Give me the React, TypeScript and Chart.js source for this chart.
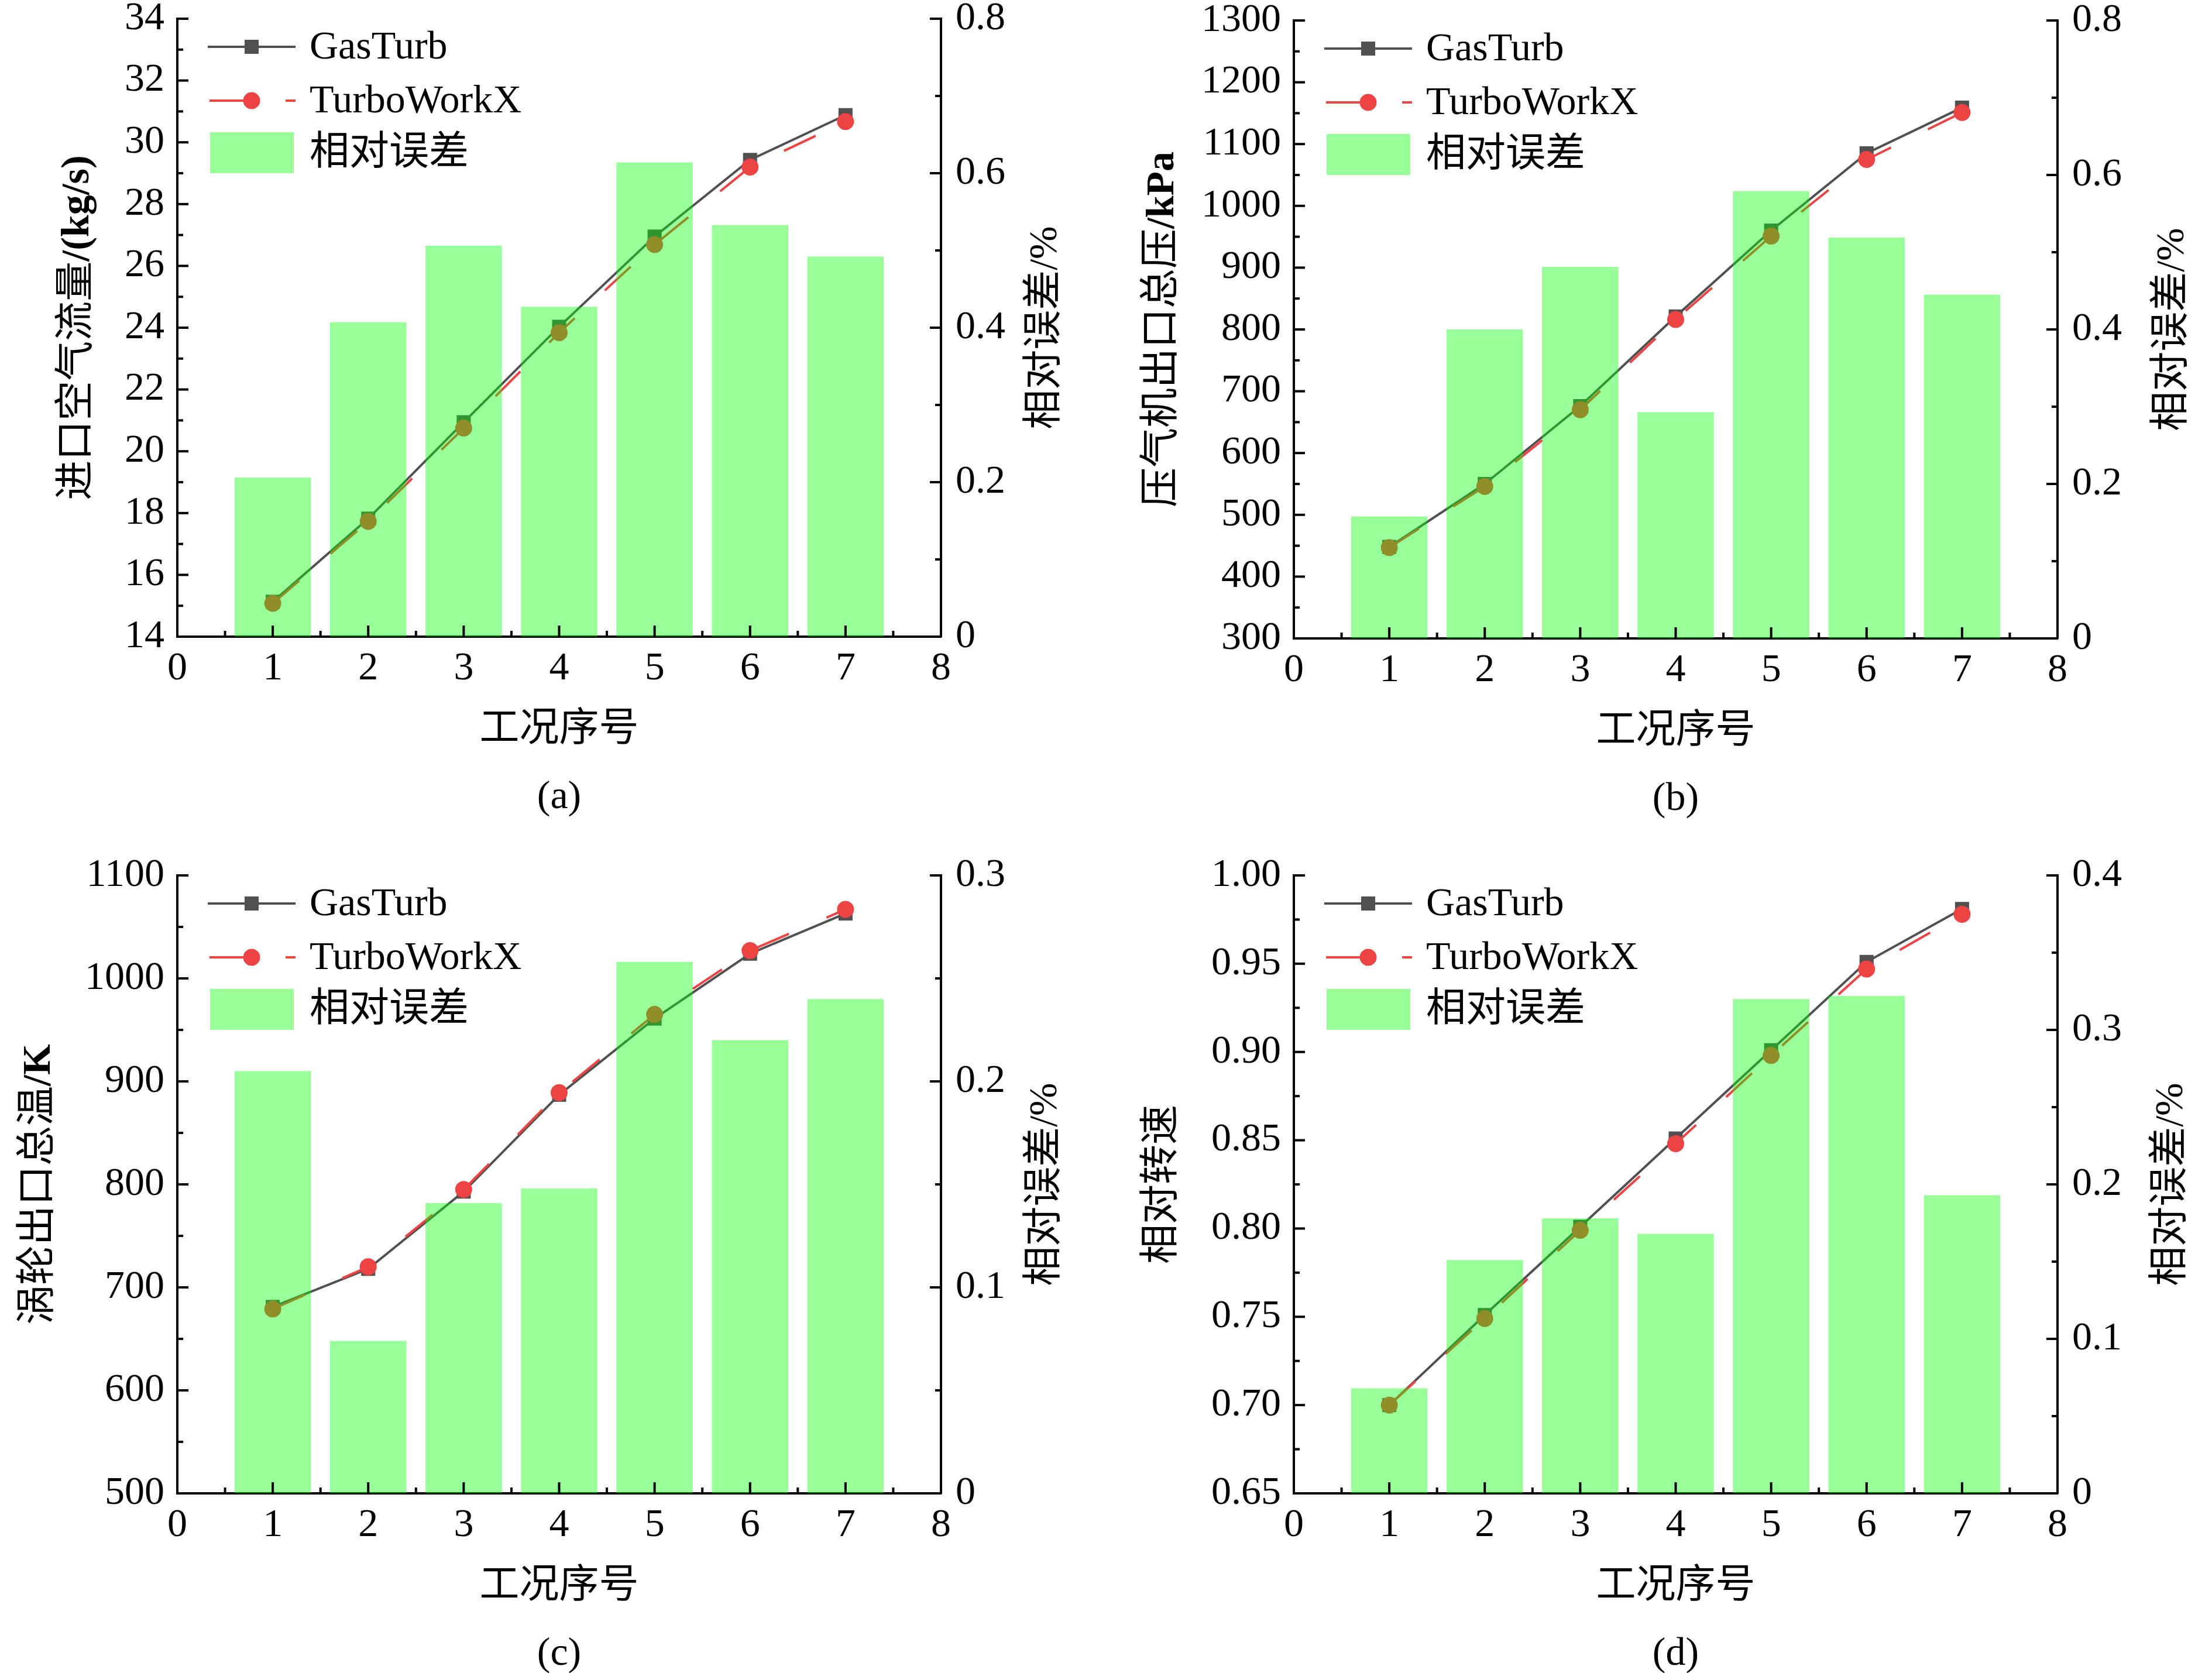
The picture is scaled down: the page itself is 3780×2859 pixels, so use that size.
import { useEffect, useRef } from 'react'
import { Chart, registerables } from 'chart.js'
import type { Plugin } from 'chart.js'

Chart.register(...registerables)

// x: 工况序号
const caseNo = [1, 2, 3, 4, 5, 6, 7]

// (a) 进口空气流量 /(kg/s)
const flowGasTurb = [15.13, 17.82, 20.94, 24.03, 26.95, 29.43, 30.88]
const flowTurboWorkX = [15.08, 17.73, 20.75, 23.84, 26.69, 29.2, 30.67]
const flowError = [0.206, 0.407, 0.506, 0.427, 0.614, 0.533, 0.492]

// (b) 压气机出口总压 /kPa
const pressureGasTurb = [448, 550, 676, 821, 960, 1085, 1159]
const pressureTurboWorkX = [447, 546, 670, 816, 951, 1075, 1151]
const pressureError = [0.158, 0.4, 0.481, 0.293, 0.579, 0.519, 0.445]

// (c) 涡轮出口总温 /K
const tempGasTurb = [681, 718, 793, 887, 961, 1024, 1063]
const tempTurboWorkX = [679, 720, 795, 889, 965, 1027, 1067]
const tempError = [0.205, 0.074, 0.141, 0.148, 0.258, 0.22, 0.24]

// (d) 相对转速
const speedGasTurb = [0.7, 0.751, 0.801, 0.851, 0.901, 0.951, 0.981]
const speedTurboWorkX = [0.7, 0.749, 0.799, 0.848, 0.898, 0.947, 0.978]
const speedError = [0.068, 0.151, 0.178, 0.168, 0.32, 0.322, 0.193]

const seriesNames = ['GasTurb', 'TurboWorkX', '相对误差']
const xTitle = '工况序号'
const rightTitle = '相对误差/%'

// axis ranges: [min, max, major step, minor step]
type Axis = [number, number, number, number]
const caseAxis: Axis = [0, 8, 1, 0.5]

const SERIF = '"Liberation Serif", "Noto Sans CJK SC"'
const GRAY = '#505050'
const RED = '#EE4343'
const BAR = 'rgba(0,255,0,0.4)'
const FONT = 68
const PLOT_W = 1305
const PLOT_H = 1056

function tickValues(min: number, max: number, step: number) {
  const n = Math.round((max - min) / step)
  const out: number[] = []
  for (let i = 0; i <= n; i++) out.push(+(min + i * step).toFixed(6))
  return out
}

interface PanelProps {
  caption: string
  yTitle: [string, boolean][]
  gas: number[]
  turbo: number[]
  err: number[]
  yAxis: Axis
  errAxis: Axis
  yDecimals: number
  left: number
  top: number
  gapL: number
  gapR: number
  width: number
  height: number
}

function drawRuns(ctx: CanvasRenderingContext2D, runs: [string, boolean][]) {
  const fonts = runs.map(([, b]) => `${b ? 'bold ' : ''}${FONT}px ${SERIF}`)
  const widths = runs.map(([t], i) => { ctx.font = fonts[i]; return ctx.measureText(t).width })
  let x = -widths.reduce((s, w) => s + w, 0) / 2
  ctx.textAlign = 'left'
  ctx.textBaseline = 'middle'
  runs.forEach(([t], i) => {
    ctx.font = fonts[i]
    ctx.fillText(t, x, 0)
    x += widths[i]
  })
}

function makeDecorations(p: PanelProps): Plugin {
  return {
    id: 'decorations',
    afterDraw(chart) {
      const { ctx, chartArea: a, scales } = chart
      ctx.save()

      // inward tick marks
      ctx.strokeStyle = '#000'
      ctx.lineWidth = 4
      const axes: [string, Axis][] = [['x', caseAxis], ['y', p.yAxis], ['y1', p.errAxis]]
      for (const [id, [min, max, step, minor]] of axes) {
        const s = scales[id]
        const n = Math.round((max - min) / minor)
        const every = Math.round(step / minor)
        for (let i = 0; i <= n; i++) {
          const px = s.getPixelForValue(min + i * minor)
          const len = i % every === 0 ? 19 : 10
          ctx.beginPath()
          if (id === 'x') { ctx.moveTo(px, a.bottom); ctx.lineTo(px, a.bottom - len) }
          else if (id === 'y') { ctx.moveTo(a.left, px); ctx.lineTo(a.left + len, px) }
          else { ctx.moveTo(a.right, px); ctx.lineTo(a.right - len, px) }
          ctx.stroke()
        }
      }

      // legend inside plot, top-left
      const x0 = a.left + 52
      const x1 = a.left + 202
      const mx = a.left + 127
      const rows = [a.top + 48, a.top + 140, a.top + 229]
      ctx.lineWidth = 4
      ctx.strokeStyle = GRAY
      ctx.beginPath(); ctx.moveTo(x0, rows[0]); ctx.lineTo(x1, rows[0]); ctx.stroke()
      ctx.fillStyle = GRAY
      ctx.fillRect(mx - 12, rows[0] - 12, 24, 24)
      ctx.strokeStyle = RED
      ctx.setLineDash([60, 70])
      ctx.beginPath(); ctx.moveTo(x0 + 3, rows[1]); ctx.lineTo(x1, rows[1]); ctx.stroke()
      ctx.setLineDash([])
      ctx.fillStyle = RED
      ctx.beginPath(); ctx.arc(mx, rows[1], 14.5, 0, Math.PI * 2); ctx.fill()
      ctx.fillStyle = BAR
      ctx.fillRect(x0 + 4, rows[2] - 35, 143, 70)
      ctx.fillStyle = '#000'
      ctx.font = `${FONT}px ${SERIF}`
      ctx.textAlign = 'left'
      ctx.textBaseline = 'middle'
      seriesNames.forEach((name, i) => ctx.fillText(name, a.left + 226, rows[i] + 2))

      // axis titles and caption
      const midY = (a.top + a.bottom) / 2
      const midX = (a.left + a.right) / 2
      ctx.save()
      ctx.translate(a.left - p.gapL, midY)
      ctx.rotate(-Math.PI / 2)
      drawRuns(ctx, p.yTitle)
      ctx.restore()
      ctx.save()
      ctx.translate(a.right + p.gapR, midY)
      ctx.rotate(-Math.PI / 2)
      drawRuns(ctx, [[rightTitle, false]])
      ctx.restore()
      ctx.font = `${FONT}px ${SERIF}`
      ctx.textAlign = 'center'
      ctx.textBaseline = 'middle'
      ctx.fillText(xTitle, midX, a.bottom + 160)
      ctx.fillText(p.caption, midX, a.bottom + 275)

      ctx.restore()
    },
  }
}

function axisOptions(axis: Axis, position: string, fmt: (v: number) => string, size: (s: any) => void, padding: number) {
  const [min, max, step] = axis
  return {
    type: 'linear' as const,
    position,
    min,
    max,
    offset: false,
    grid: { display: false, drawTicks: false },
    border: { display: true, color: '#000', width: 4 },
    ticks: {
      autoSkip: false,
      maxRotation: 0,
      color: '#000',
      padding,
      font: { family: SERIF, size: FONT },
      callback: (v: number | string) => fmt(Number(v)),
    },
    afterBuildTicks: (s: any) => { s.ticks = tickValues(min, max, step).map(value => ({ value })) },
    afterFit: (s: any) => {
      size(s)
      s.paddingTop = 0
      s.paddingBottom = 0
      s.paddingLeft = 0
      s.paddingRight = 0
    },
  }
}

function Panel(p: PanelProps) {
  const canvasRef = useRef<HTMLCanvasElement>(null)

  useEffect(() => {
    if (!canvasRef.current) return
    const right = p.left + PLOT_W
    const bottom = p.top + PLOT_H
    const chart = new Chart(canvasRef.current, {
      type: 'line',
      data: {
        datasets: [
          {
            type: 'line',
            label: seriesNames[0],
            data: caseNo.map((x, i) => ({ x, y: p.gas[i] })),
            borderColor: GRAY,
            borderWidth: 4,
            pointStyle: 'rect',
            pointRadius: 17,
            pointBackgroundColor: GRAY,
            pointBorderWidth: 0,
            tension: 0,
            yAxisID: 'y',
            order: 2,
          },
          {
            type: 'line',
            label: seriesNames[1],
            data: caseNo.map((x, i) => ({ x, y: p.turbo[i] })),
            borderColor: RED,
            borderWidth: 4,
            borderDash: [60, 70],
            pointStyle: 'circle',
            pointRadius: 14.5,
            pointBackgroundColor: RED,
            pointBorderWidth: 0,
            tension: 0,
            yAxisID: 'y',
            order: 1,
          },
          {
            type: 'bar',
            label: seriesNames[2],
            data: caseNo.map((x, i) => ({ x, y: p.err[i] })),
            backgroundColor: BAR,
            borderWidth: 0,
            barPercentage: 0.8,
            categoryPercentage: 1,
            yAxisID: 'y1',
            order: 0,
          },
        ],
      } as any,
      options: {
        responsive: false,
        animation: false,
        devicePixelRatio: 1,
        events: [],
        layout: { padding: { top: p.top, left: 0, right: 0, bottom: 0 } },
        plugins: { legend: { display: false }, tooltip: { enabled: false } },
        scales: {
          x: axisOptions(caseAxis, 'bottom', v => String(Math.round(v)), s => { s.height = p.height - bottom }, 14),
          y: axisOptions(p.yAxis, 'left', v => v.toFixed(p.yDecimals), s => { s.width = p.left }, 22),
          y1: axisOptions(p.errAxis, 'right', v => (v === 0 ? '0' : v.toFixed(1)), s => { s.width = p.width - right }, 25),
        } as any,
      },
      plugins: [makeDecorations(p)],
    })
    return () => { chart.destroy() }
  }, [p])

  return <canvas ref={canvasRef} width={p.width} height={p.height} style={{ width: p.width, height: p.height, display: 'block' }} />
}

const panelA: PanelProps = {
  caption: '(a)', yTitle: [['进口空气流量', false], ['/(kg/s)', true]],
  gas: flowGasTurb, turbo: flowTurboWorkX, err: flowError,
  yAxis: [14, 34, 2, 1], errAxis: [0, 0.8, 0.2, 0.1], yDecimals: 0,
  left: 303, top: 32, gapL: 170, gapR: 179, width: 1890, height: 1430,
}
const panelB: PanelProps = {
  caption: '(b)', yTitle: [['压气机出口总压', false], ['/kPa', true]],
  gas: pressureGasTurb, turbo: pressureTurboWorkX, err: pressureError,
  yAxis: [300, 1300, 100, 50], errAxis: [0, 0.8, 0.2, 0.1], yDecimals: 0,
  left: 321, top: 35, gapL: 224, gapR: 197, width: 1890, height: 1430,
}
const panelC: PanelProps = {
  caption: '(c)', yTitle: [['涡轮出口总温', false], ['/K', true]],
  gas: tempGasTurb, turbo: tempTurboWorkX, err: tempError,
  yAxis: [500, 1100, 100, 50], errAxis: [0, 0.3, 0.1, 0.05], yDecimals: 0,
  left: 303, top: 66, gapL: 236, gapR: 179, width: 1890, height: 1429,
}
const panelD: PanelProps = {
  caption: '(d)', yTitle: [['相对转速', false]],
  gas: speedGasTurb, turbo: speedTurboWorkX, err: speedError,
  yAxis: [0.65, 1.0, 0.05, 0.025], errAxis: [0, 0.4, 0.1, 0.05], yDecimals: 2,
  left: 321, top: 66, gapL: 224, gapR: 195, width: 1890, height: 1429,
}

export default function App() {
  return (
    <div style={{ position: 'absolute', left: 0, top: 0, width: 3780, height: 2859, background: '#fff' }}>
      <div style={{ position: 'absolute', left: 0, top: 0 }}><Panel {...panelA} /></div>
      <div style={{ position: 'absolute', left: 1890, top: 0 }}><Panel {...panelB} /></div>
      <div style={{ position: 'absolute', left: 0, top: 1430 }}><Panel {...panelC} /></div>
      <div style={{ position: 'absolute', left: 1890, top: 1430 }}><Panel {...panelD} /></div>
    </div>
  )
}
